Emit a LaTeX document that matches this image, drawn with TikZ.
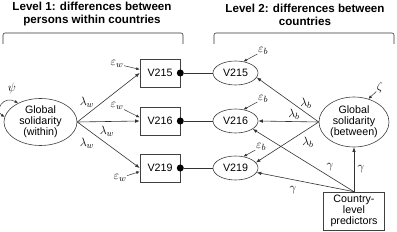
\documentclass[tikz,border=0pt]{standalone}
\usepackage{fontspec}
\setmainfont{Liberation Sans}
\usetikzlibrary{shapes.geometric,arrows.meta}
\begin{document}
\begin{tikzpicture}[x=1pt,y=-1pt,
  ln/.style={draw=black!80, line width=0.6pt},
  arr/.style={ln, -{Latex[length=4.5pt,width=3.5pt]}},
  sarr/.style={draw=black!80, line width=0.5pt, -{Latex[length=3.5pt,width=3pt]}},
  ell/.style={ellipse, draw=black!75, line width=0.6pt, inner sep=0pt, align=center, font=\fontsize{10.7}{11.2}\selectfont},
  obs/.style={rectangle, draw=black!75, line width=0.6pt, minimum width=40pt, minimum height=28pt, inner sep=0pt, font=\fontsize{10.7}{12}\selectfont},
  dot/.style={circle, fill=black, inner sep=0pt, minimum size=7pt},
  lab/.style={inner sep=0.5pt, font=\fontsize{12.5}{14}\selectfont},
  ttl/.style={align=center, font=\bfseries\fontsize{11.6}{13}\selectfont},
  brk/.style={draw=black!80, line width=0.6pt, rounded corners=2pt}
]
\useasboundingbox (0,0) rectangle (397,232);

% titles and brackets
\node[ttl] (t1) at (92,14.5) {Level 1: differences between\\persons within countries};
\node[ttl] (t2) at (305,14.5) {Level 2: differences between\\countries};
\draw[brk] (3,44) -- (3,33) -- (183,33) -- (183,44);
\draw[brk] (214,44) -- (214,33) -- (394,33) -- (394,44);

% level 1
\node[ell, minimum width=73pt, minimum height=47pt] (wi) at (40.5,122) {Global\\solidarity\\(within)};
\node[obs] (b215) at (160,73) {V215};
\node[obs] (b216) at (160,121) {V216};
\node[obs] (b219) at (160,168) {V219};
\node[dot] (d215) at (b215.east) {};
\node[dot] (d216) at (b216.east) {};
\node[dot] (d219) at (b219.east) {};

% level 2
\node[ell, minimum width=45pt, minimum height=24pt] (e215) at (235.5,73) {V215};
\node[ell, minimum width=45pt, minimum height=24pt] (e216) at (235.5,121) {V216};
\node[ell, minimum width=45pt, minimum height=24pt] (e219) at (235.5,168) {V219};
\node[ell, minimum width=70pt, minimum height=50pt] (be) at (354,122) {Global\\solidarity\\(between)};
\node[obs, minimum width=61pt, minimum height=38pt, align=center, font=\fontsize{10.7}{11}\selectfont] (pr) at (354,211) {Country-\\level\\predictors};

% dot connections
\draw[ln] (d215) -- (e215);
\draw[ln] (d216) -- (e216);
\draw[ln] (d219) -- (e219);

% lambda_w loadings
\draw[arr] (wi.east) -- (b215.west);
\draw[arr] (wi.east) -- (b216.west);
\draw[arr] (wi.east) -- (b219.west);
\node[lab] (lw1) at (87,102) {$\lambda_w$};
\node[lab] (lw2) at (107,131) {$\lambda_w$};
\node[lab] (lw3) at (87,143) {$\lambda_w$};

% psi
\draw[sarr, {Latex[length=3.5pt,width=3pt]}-{Latex[length=3.5pt,width=3pt]}] (wi.140) .. controls (4,95) and (-6,110) .. (wi.172);
\node[lab] (psi) at (12,89) {$\psi$};

% eps_w
\node[lab] (ew1) at (117,64) {$\varepsilon_w$};
\node[lab] (ew2) at (117,106) {$\varepsilon_w$};
\node[lab] (ew3) at (120,178) {$\varepsilon_w$};
\draw[sarr] (ew1) -- (b215.170);
\draw[sarr] (ew2) -- (b216.170);
\draw[sarr] (ew3) -- (b219.190);

% lambda_b loadings
\draw[arr] (be.west) -- (e215.-12);
\draw[arr] (be.west) -- (e216.east);
\draw[arr] (be.west) -- (e219.15);
\node[lab] (lb1) at (306,103) {$\lambda_b$};
\node[lab] (lb2) at (294,114) {$\lambda_b$};
\node[lab] (lb3) at (308,142) {$\lambda_b$};

% eps_b
\node[lab] (eb1) at (263,51) {$\varepsilon_b$};
\node[lab] (eb2) at (263,99) {$\varepsilon_b$};
\node[lab] (eb3) at (261,147) {$\varepsilon_b$};
\draw[sarr] (eb1) -- (e215.55);
\draw[sarr] (eb2) -- (e216.55);
\draw[sarr] (eb3) -- (e219.55);

% zeta
\node[lab] (z) at (380,88) {$\zeta$};
\draw[sarr] (z) -- (be.58);

% gamma
\draw[arr] (pr.north) -- (be.south);
\draw[arr] (pr.north) -- (e216.-25);
\draw[arr] (pr.north) -- (e219.-12);
\node[lab] (g1) at (330,167) {$\gamma$};
\node[lab] (g2) at (361,169) {$\gamma$};
\node[lab] (g3) at (293,190) {$\gamma$};
\end{tikzpicture}
\end{document}
